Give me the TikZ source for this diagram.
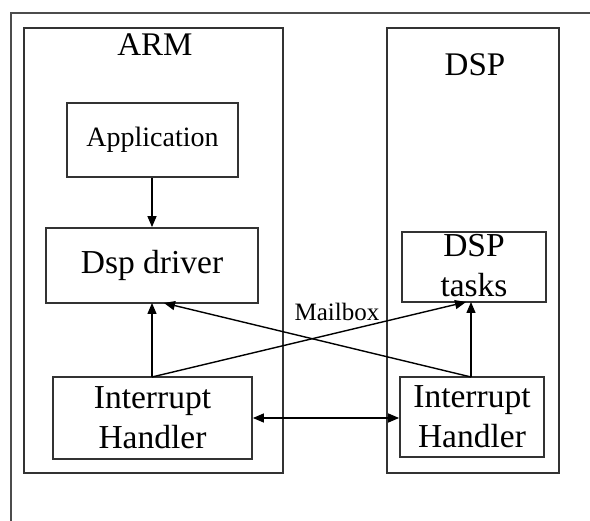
\documentclass[tikz,border=0pt]{standalone}
\usepackage{fontspec}
\setmainfont{Liberation Serif}
\usetikzlibrary{arrows.meta}
\begin{document}
\begin{tikzpicture}[x=1pt,y=-1pt,
  box/.style={draw=black!80, line width=1.8pt, inner sep=0pt},
  big/.style={font=\fontsize{33.5}{40}\selectfont, align=center, inner sep=0pt},
  conn/.style={line width=1.4pt, -{Triangle[length=11pt,width=9pt]}},
  dconn/.style={line width=1.4pt, {Triangle[length=11pt,width=9pt]}-{Triangle[length=11pt,width=9pt]}}]
\useasboundingbox[fill=white] (0,0) rectangle (590,521);
\draw[black!70, line width=1.2pt] (11,521) -- (11,13) -- (590,13);
% outer blocks
\node[box, minimum width=259pt, minimum height=445pt] (arm) at (153.5,250.5) {};
\node[box, minimum width=172pt, minimum height=445pt] (dsp) at (473,250.5) {};
\node[big, font=\fontsize{33}{40}\selectfont] (armlbl) at (155,45) {ARM};
\node[big, font=\fontsize{33}{40}\selectfont] (dsplbl) at (475,65) {DSP};
% inner boxes
\node[box, minimum width=171pt, minimum height=74pt] (app) at (152.5,140) {};
\node[big, font=\fontsize{28}{34}\selectfont] (applbl) at (152.5,140) {Application};
\node[box, minimum width=212pt, minimum height=75pt] (drv) at (152,265.5) {};
\node[big] (drvlbl) at (152,265.5) {Dsp driver};
\node[box, minimum width=199pt, minimum height=82pt] (ihl) at (152.5,418) {};
\node[big] (ihllbl) at (152.5,418) {Interrupt\\Handler};
\node[box, minimum width=144pt, minimum height=70pt] (tasks) at (474,267) {};
\node[big] (taskslbl) at (474,266) {DSP\\tasks};
\node[box, minimum width=144pt, minimum height=80pt] (ihr) at (472,417) {};
\node[big] (ihrlbl) at (472,417) {Interrupt\\Handler};
\node[font=\fontsize{25}{30}\selectfont, inner sep=0pt] (mail) at (337,312) {Mailbox};
% connector anchor points
\coordinate (ihlTop) at (152,377);
\coordinate (ihrTop) at (471,377);
\coordinate (drvA) at (152,303);
\coordinate (drvB) at (164,303);
\coordinate (tasksA) at (466,302);
\coordinate (tasksB) at (471,302);
% connectors
\draw[conn] (app.south -| drvA) -- (drvA |- drv.north);
\draw[conn] (ihlTop) -- (drvA);
\draw[conn] (ihlTop) -- (tasksA);
\draw[conn] (ihrTop) -- (tasksB);
\draw[conn] (ihrTop) -- (drvB);
\draw[dconn] (ihl.east) -- (ihl.east -| ihr.west);
\end{tikzpicture}
\end{document}
